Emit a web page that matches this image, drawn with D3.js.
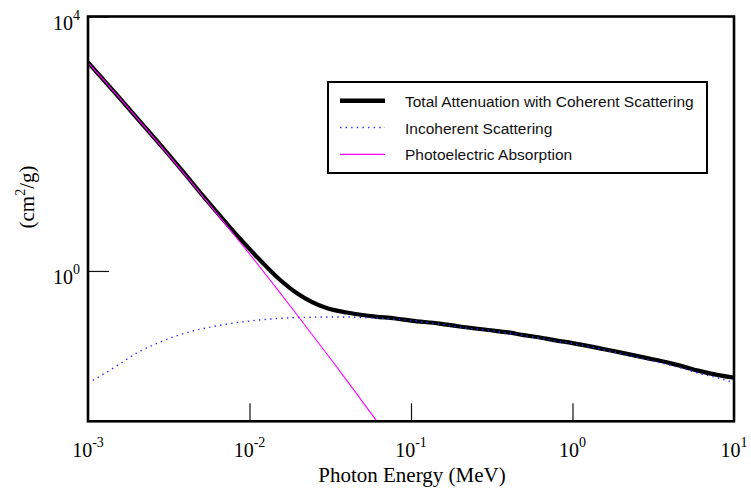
<!DOCTYPE html>
<html><head><meta charset="utf-8">
<script src="https://cdn.jsdelivr.net/npm/d3@7"></script>
<style>body{margin:0;background:#fff}svg{display:block}</style>
</head><body><svg id="c" width="751" height="489"></svg>
<script>
// Photon energy grid (MeV)
const energies = [0.001,0.0015,0.002,0.003,0.004,0.005,0.006,0.008,0.01,0.015,0.02,0.03,0.04,0.05,0.06,0.08,
  0.1,0.15,0.2,0.3,0.4,0.5,0.6,0.8,1,1.5,2,3,4,5,6,8,10];
// Total attenuation with coherent scattering (cm^2/g)
const totalAtten = [1905,597,258,79.0,33.1,16.6,9.64,4.11,2.22,0.776,0.434,0.261,0.222,0.203,0.192,0.179,
  0.166,0.149,0.134,0.118,0.108,0.0982,0.0914,0.0805,0.0735,0.0602,0.0521,0.0419,0.0356,0.0308,0.0271,0.0230,0.0210];
// Incoherent scattering (cm^2/g)
const incoherent = [0.0172,0.0319,0.0511,0.0819,0.1057,0.122,0.134,0.152,0.163,0.179,0.185,0.189,0.189,0.185,0.182,0.175,
  0.166,0.146,0.131,0.116,0.1057,0.0965,0.0897,0.0790,0.0722,0.0591,0.0502,0.0397,0.0331,0.0286,0.0248,0.0207,0.0175];
// Photoelectric absorption (cm^2/g), runs off the bottom of the plot
const photoelectric = [1888,597,258,77.1,32.3,16.2,9.23,3.74,1.85,0.499,0.194,0.0504,0.0191,0.00884,0.00472,0.00173,
  0.000787];
const xTickExps = [-3,-2,-1,0,1];
const yTickExps = [0,4];
const seriesNames = ["Total Attenuation with Coherent Scattering","Incoherent Scattering","Photoelectric Absorption"];
const xTitle = "Photon Energy (MeV)";

const svg = d3.select("#c");
const L = 88, R = 734, T = 16.5, B = 421.3;
const x = d3.scaleLog().domain([1e-3, 10]).range([L, R]);
const y = d3.scaleLog().domain([0.00433, 1e4]).range([B, T]);

svg.append("defs").append("clipPath").attr("id","clip")
  .append("rect").attr("x",L).attr("y",T).attr("width",R-L).attr("height",B-T);

// ticks via axes
const xAx = svg.append("g").attr("transform",`translate(0,${B})`)
  .call(d3.axisBottom(x).tickValues(xTickExps.slice(1,-1).map(e=>Math.pow(10,e))).tickSize(-18).tickFormat(""));
const yAx = svg.append("g").attr("transform",`translate(${L},0)`)
  .call(d3.axisLeft(y).tickValues(yTickExps.map(e=>Math.pow(10,e))).tickSize(-21).tickFormat(""));
[xAx,yAx].forEach(g=>{g.select(".domain").remove(); g.selectAll("line").attr("stroke","#111").attr("stroke-width",1.2);});

const serif = "'Liberation Serif','Times New Roman',serif";
// x tick labels
xTickExps.forEach(e=>{
  const t = svg.append("text").attr("x", x(Math.pow(10,e))).attr("y", 457)
    .attr("text-anchor","middle").attr("font-family",serif).attr("font-size",20).attr("fill","#000");
  t.append("tspan").text("10");
  t.append("tspan").attr("font-size",14).attr("dy",-10).text(String(e));
});
// y tick labels
yTickExps.forEach(e=>{
  const t = svg.append("text").attr("x", 80).attr("y", y(Math.pow(10,e))+13.5)
    .attr("text-anchor","end").attr("font-family",serif).attr("font-size",20).attr("fill","#000");
  t.append("tspan").text("10");
  t.append("tspan").attr("font-size",14).attr("dy",-10).text(String(e));
});
// axis titles
svg.append("text").attr("x",412).attr("y",482).attr("text-anchor","middle")
  .attr("font-family",serif).attr("font-size",21).text(xTitle);
const yt = svg.append("text").attr("transform","translate(34,197) rotate(-90)").attr("text-anchor","middle")
  .attr("font-family",serif).attr("font-size",21);
yt.append("tspan").text("(cm");
yt.append("tspan").attr("font-size",14).attr("dy",-9).text("2");
yt.append("tspan").attr("dy",9).text("/g)");

// lines
const line = d3.line().x(d=>x(d[0])).y(d=>y(d[1])).curve(d3.curveMonotoneX);
const plot = svg.append("g").attr("clip-path","url(#clip)");
const styles = [
  {data: totalAtten, stroke:"#000", width:4.2, dash:null},
  {data: incoherent, stroke:"#2a2aff", width:1.4, dash:"1.4,4.2"},
  {data: photoelectric, stroke:"#ff00ff", width:1.1, dash:null}
];
styles.forEach(s=>{
  const pts = s.data.map((v,i)=>[energies[i], v]);
  plot.append("path").attr("d", line(pts)).attr("fill","none")
    .attr("stroke", s.stroke).attr("stroke-width", s.width)
    .attr("stroke-dasharray", s.dash).attr("stroke-linejoin","round");
});

// frame
svg.append("rect").attr("x",L).attr("y",T).attr("width",R-L).attr("height",B-T)
  .attr("fill","none").attr("stroke","#000").attr("stroke-width",2.6);

// legend
const lg = svg.append("g");
lg.append("rect").attr("x",328).attr("y",82).attr("width",379).attr("height",91)
  .attr("fill","#fff").attr("stroke","#000").attr("stroke-width",2);
seriesNames.forEach((n,i)=>{
  const yy = 100.7 + i*26.8;
  lg.append("line").attr("x1",340).attr("x2",385).attr("y1",yy).attr("y2",yy)
    .attr("stroke", styles[i].stroke).attr("stroke-width", i===0?4.5:(i===1?1.4:1.3))
    .attr("stroke-dasharray", styles[i].dash);
  lg.append("text").attr("x",405).attr("y",yy+6).attr("font-family","'Liberation Sans',Arial,sans-serif")
    .attr("font-size",15.5).attr("fill","#111").text(n);
});
</script>
</body></html>
